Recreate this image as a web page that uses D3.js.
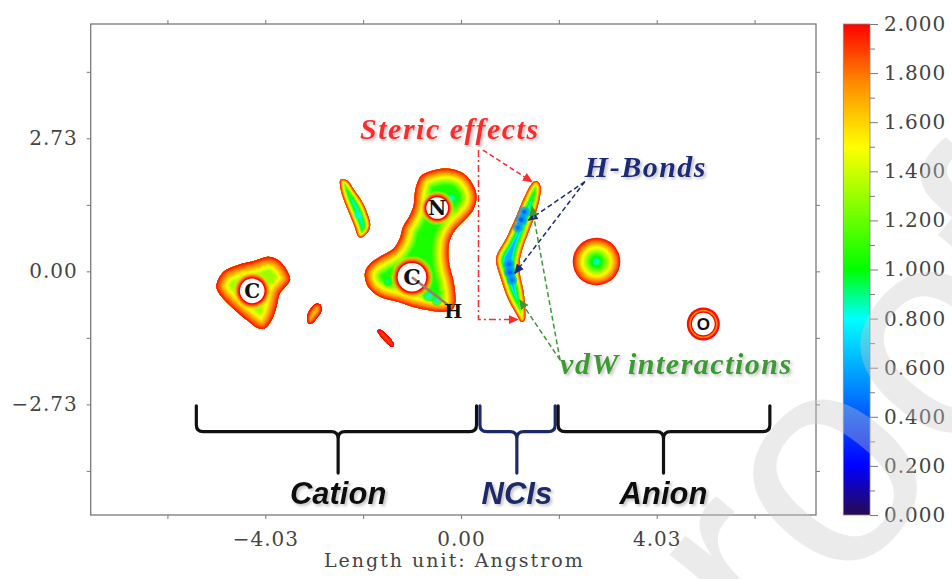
<!DOCTYPE html>
<html>
<head>
<meta charset="utf-8">
<script src="https://cdn.jsdelivr.net/npm/d3@7"></script>
<style>
  body { margin: 0; background: #fff; }
</style>
</head>
<body>
<div id="chart"></div>
<script>
// axis ticks (Angstrom)
const xTicks = [-6.045, -4.03, -2.015, 0, 2.015, 4.03, 6.045];
const xLabels = [-4.03, 0, 4.03];
const yTicks = [-4.095, -2.73, -1.365, 0, 1.365, 2.73, 4.095];
const yLabels = [-2.73, 0, 2.73];
const barMajor = [0, 0.2, 0.4, 0.6, 0.8, 1.0, 1.2, 1.4, 1.6, 1.8, 2.0];
const barMinor = [0.1, 0.3, 0.5, 0.7, 0.9, 1.1, 1.3, 1.5, 1.7, 1.9];

// colour map stops
const colorStops = [0, 0.2, 0.5, 0.8, 1.0, 1.25, 1.5, 1.75, 2.0];
const colorValues = ['#2a0a50', '#0000ff', '#0080ff', '#00ffff', '#00ff00', '#80ff00', '#ffff00', '#ff9000', '#ff0000'];

// region outlines (x, y in Angstrom)
const leftBlob = [[-5.03,-0.25],[-4.89,-0.01],[-4.59,0.13],[-4.31,0.20],[-4.10,0.27],[-3.97,0.30],[-3.76,0.23],
  [-3.59,0.03],[-3.52,-0.18],[-3.62,-0.32],[-3.73,-0.45],[-3.80,-0.73],[-3.90,-1.00],[-4.04,-1.17],
  [-4.17,-1.17],[-4.41,-1.00],[-4.69,-0.76],[-4.93,-0.52],[-5.03,-0.35]];
const slantBlob = [[-2.48,1.88],[-2.35,1.87],[-2.20,1.67],[-2.02,1.40],[-1.92,1.16],[-1.87,0.95],[-1.92,0.80],
  [-2.04,0.70],[-2.11,0.71],[-2.19,0.92],[-2.30,1.19],[-2.41,1.46],[-2.48,1.70]];
const smallBlob = [[-3.14,-1.07],[-3.17,-0.93],[-3.07,-0.73],[-2.97,-0.66],[-2.89,-0.69],[-2.88,-0.83],[-2.97,-0.96],[-3.07,-1.07]];
const streakBlob = [[-1.72,-1.22],[-1.66,-1.20],[-1.38,-1.50],[-1.42,-1.55]];
const cationBlob = [[-0.67,2.04],[-0.29,2.11],[0.05,2.01],[0.25,1.77],[0.32,1.53],[0.25,1.26],[0.08,1.06],
  [-0.12,0.85],[-0.23,0.64],[-0.26,0.37],[-0.23,0.09],[-0.16,-0.18],[-0.12,-0.45],[-0.12,-0.66],[-0.19,-0.79],
  [-0.43,-0.83],[-0.71,-0.79],[-0.98,-0.73],[-1.32,-0.62],[-1.67,-0.52],[-1.91,-0.32],[-1.98,-0.04],
  [-1.87,0.16],[-1.67,0.30],[-1.39,0.47],[-1.26,0.68],[-1.19,0.92],[-1.07,1.12],[-0.98,1.33],[-0.94,1.67],[-0.83,1.95]];
const nciBlob = [[1.57,1.85],[1.64,1.74],[1.61,1.46],[1.51,1.12],[1.38,0.78],[1.28,0.51],[1.21,0.23],[1.21,-0.04],
  [1.28,-0.38],[1.32,-0.73],[1.31,-1.00],[1.25,-1.04],[1.13,-0.86],[0.95,-0.52],[0.81,-0.11],[0.72,0.23],
  [0.76,0.38],[0.91,0.64],[1.08,0.99],[1.25,1.40],[1.40,1.71],[1.50,1.84]];

const regionShapes = [leftBlob, slantBlob, smallBlob, streakBlob, cationBlob, nciBlob];
const regionMin = [1.3, 0.85, 1.65, 1.9, 1.05, 0.62];
const regionDepth = [0.30, 0.15, 0.10, 0.04, 0.36, 0.19];

// round regions (anion, O ring)
const roundCenters = [[2.79, 0.20], [4.99, -1.08]];
const roundRadius = [0.49, 0.34];
const roundMin = [0.75, 1.7];

// low-value spots inside regions
const spotCenters = [[-0.19, 1.50], [-1.50, -0.21], [-0.66, -0.50], [-0.50, -0.60], [-2.12, 1.15],
  [1.30, 1.22], [1.24, 1.06], [1.17, 0.90], [0.99, 0.14], [1.01, -0.02], [1.05, -0.18]];
const spotRadius = [0.14, 0.11, 0.14, 0.12, 0.09, 0.13, 0.14, 0.12, 0.13, 0.14, 0.12];
const spotMin = [0.8, 0.85, 0.78, 0.8, 0.8, 0.42, 0.38, 0.45, 0.42, 0.38, 0.45];
const spotParent = [4, 4, 4, 4, 1, 5, 5, 5, 5, 5, 5];

// atoms
const atomLabels = ['C', 'N', 'C', 'O'];
const atomCenters = [[-4.30, -0.40], [-0.49, 1.30], [-1.01, -0.12], [4.99, -1.08]];
const atomRadius = [0.27, 0.24, 0.31, 0.25];
const atomBand = [0.14, 0.12, 0.14, 0.05];
const hydrogen = [-0.16, -0.81];

// annotations
const stericDashed = [[0.45, 2.49], [1.46, 1.84]];
const stericDashDot = [[0.36, 2.49], [0.36, -0.99], [1.17, -0.99]];
const hbondArrows = [[[2.55, 1.84], [1.39, 1.05]], [[2.55, 1.84], [1.11, -0.04]]];
const vdwArrows = [[[2.04, -1.82], [1.46, 1.33]], [[2.04, -1.82], [1.21, -0.59]]];
const braceSpans = [[-5.45, -2.53, 0.32], [0.39, 1.15, 1.94], [2.00, 4.17, 6.36]];
const braceNames = ['Cation', 'NCIs', 'Anion'];
const braceLevels = [-2.76, -3.29, -4.14];

const W = 952, H = 579;
const svg = d3.select('#chart').append('svg')
  .attr('width', W).attr('height', H)
  .style('background', '#fff')
  .style('display', 'block');

const x = d3.scaleLinear().domain([-7.625, 7.31]).range([90.7, 816]);
const y = d3.scaleLinear().domain([-5.0, 5.076]).range([515, 24]);
const pxPerA = x(1) - x(0);
const color = d3.scaleLinear().domain(colorStops).range(colorValues).clamp(true);

const defs = svg.append('defs');
const plotClip = defs.append('clipPath').attr('id', 'plotclip');
plotClip.append('rect').attr('x', x(x.domain()[0])).attr('y', y(y.domain()[1]))
  .attr('width', x(x.domain()[1]) - x(x.domain()[0])).attr('height', y(y.domain()[0]) - y(y.domain()[1]));

const shadow = defs.append('filter').attr('id', 'shadow')
  .attr('x', '-10%').attr('y', '-40%').attr('width', '130%').attr('height', '180%');
shadow.append('feDropShadow').attr('dx', 2).attr('dy', 2).attr('stdDeviation', 1.4)
  .attr('flood-color', '#777').attr('flood-opacity', 0.45);

const plot = svg.append('g').attr('clip-path', 'url(#plotclip)');

// ---- regions: colour bands by distance from the edge
const shapeLine = d3.line().x(d => x(d[0])).y(d => y(d[1])).curve(d3.curveCatmullRomClosed.alpha(0.5));
const steps = 18;
regionShapes.forEach((pts, i) => {
  const d = shapeLine(pts);
  defs.append('clipPath').attr('id', 'reg' + i).append('path').attr('d', d);
  const g = plot.append('g').attr('clip-path', `url(#reg${i})`);
  g.append('path').attr('d', d).attr('fill', color(regionMin[i]));
  const depthPx = regionDepth[i] * pxPerA;
  for (let k = steps; k >= 1; k--) {
    const t = k / steps;
    g.append('path').attr('d', d).attr('fill', 'none')
      .attr('stroke', color(2 - (2 - regionMin[i]) * t))
      .attr('stroke-width', 2 * depthPx * t)
      .attr('stroke-linejoin', 'round');
  }
  // spots inside this region
  spotCenters.forEach((c, j) => {
    if (spotParent[j] !== i) return;
    const gid = 'spot' + j;
    const grad = defs.append('radialGradient').attr('id', gid);
    [0, 0.25, 0.5, 0.75, 1].forEach(o => {
      grad.append('stop').attr('offset', o)
        .attr('stop-color', color(spotMin[j] + (regionMin[i] - spotMin[j]) * o))
        .attr('stop-opacity', o < 0.5 ? 1 : (o < 1 ? 0.7 : 0));
    });
    g.append('circle').attr('cx', x(c[0])).attr('cy', y(c[1]))
      .attr('r', spotRadius[j] * pxPerA).attr('fill', `url(#${gid})`);
  });
});

// ---- round regions
roundCenters.forEach((c, i) => {
  const gid = 'round' + i;
  const grad = defs.append('radialGradient').attr('id', gid);
  for (let k = 0; k <= 10; k++) {
    grad.append('stop').attr('offset', k / 10)
      .attr('stop-color', color(roundMin[i] + (2 - roundMin[i]) * k / 10));
  }
  plot.append('circle').attr('cx', x(c[0])).attr('cy', y(c[1]))
    .attr('r', roundRadius[i] * pxPerA).attr('fill', `url(#${gid})`);
});

// ---- atom holes
atomCenters.forEach((c, i) => {
  const r = atomRadius[i] * pxPerA;
  const R = (atomRadius[i] + atomBand[i]) * pxPerA;
  const f0 = r / R;
  const gid = 'hole' + i;
  const grad = defs.append('radialGradient').attr('id', gid);
  grad.append('stop').attr('offset', 0).attr('stop-color', color(2)).attr('stop-opacity', 1);
  grad.append('stop').attr('offset', f0).attr('stop-color', color(2)).attr('stop-opacity', 1);
  [[0.3, 1.8, 0.95], [0.65, 1.6, 0.6], [1, 1.45, 0]].forEach(s => {
    grad.append('stop').attr('offset', f0 + (1 - f0) * s[0])
      .attr('stop-color', color(s[1])).attr('stop-opacity', s[2]);
  });
  plot.append('circle').attr('cx', x(c[0])).attr('cy', y(c[1])).attr('r', R).attr('fill', `url(#${gid})`);
  plot.append('circle').attr('cx', x(c[0])).attr('cy', y(c[1])).attr('r', r - 0.8).attr('fill', '#fff');
});

// C-H bond line
plot.append('line')
  .attr('x1', x(atomCenters[2][0])).attr('y1', y(atomCenters[2][1]))
  .attr('x2', x(hydrogen[0]) - 3).attr('y2', y(hydrogen[1]) - 4)
  .attr('stroke', '#a57a6a').attr('stroke-width', 2.5);

plot.selectAll('text.atom').data(atomLabels).join('text')
  .attr('class', 'atom')
  .attr('x', (d, i) => x(atomCenters[i][0]))
  .attr('y', (d, i) => y(atomCenters[i][1]))
  .attr('dy', '0.36em')
  .attr('text-anchor', 'middle')
  .style('font-family', (d) => d === 'O' ? 'Liberation Sans, Arial, sans-serif' : 'DejaVu Serif, serif')
  .style('font-weight', 'bold')
  .style('font-size', (d, i) => d === 'O' ? '17px' : (i === 2 ? '22px' : '20px'))
  .attr('fill', '#111')
  .text(d => d);

plot.append('text')
  .attr('x', x(hydrogen[0])).attr('y', y(hydrogen[1]))
  .attr('dy', '0.36em').attr('text-anchor', 'middle')
  .style('font-family', 'DejaVu Serif, serif').style('font-weight', 'bold').style('font-size', '19px')
  .attr('fill', '#111').text('H');

// ---- frame and axes
const axisColor = '#7a7a7a';
function styleAxis(g) {
  g.select('.domain').remove();
  g.selectAll('line').attr('stroke', axisColor);
  g.selectAll('text')
    .style('font-family', 'DejaVu Serif, serif')
    .style('font-size', '20px')
    .style('letter-spacing', '1px')
    .attr('fill', '#444');
}

svg.append('g').attr('transform', `translate(0,${y.range()[0]})`)
  .call(d3.axisBottom(x).tickValues(xTicks).tickSize(4).tickPadding(13)
    .tickFormat(v => xLabels.includes(v) ? d3.format('.2f')(v) : ''))
  .call(styleAxis);
svg.append('g').attr('transform', `translate(0,${y.range()[1]})`)
  .call(d3.axisTop(x).tickValues(xTicks).tickSize(4).tickFormat(''))
  .call(styleAxis);
svg.append('g').attr('transform', `translate(${x.range()[0]},0)`)
  .call(d3.axisLeft(y).tickValues(yTicks).tickSize(4).tickPadding(9)
    .tickFormat(v => yLabels.includes(v) ? d3.format('.2f')(v) : ''))
  .call(styleAxis);
svg.append('g').attr('transform', `translate(${x.range()[1]},0)`)
  .call(d3.axisRight(y).tickValues(yTicks).tickSize(4).tickFormat(''))
  .call(styleAxis);

svg.append('rect')
  .attr('x', x.range()[0]).attr('y', y.range()[1])
  .attr('width', x.range()[1] - x.range()[0]).attr('height', y.range()[0] - y.range()[1])
  .attr('fill', 'none').attr('stroke', axisColor).attr('stroke-width', 1.3);

svg.append('text')
  .attr('x', (x.range()[0] + x.range()[1]) / 2 + 1).attr('y', 567)
  .attr('text-anchor', 'middle')
  .style('font-family', 'DejaVu Serif, serif').style('font-size', '19px').style('letter-spacing', '2px')
  .attr('fill', '#444')
  .text('Length unit: Angstrom');

// ---- colour bar
const cb = d3.scaleLinear().domain([0, 2]).range([515, 24]);
const cbX0 = 843.3, cbX1 = 870;
const cbGrad = defs.append('linearGradient').attr('id', 'cbgrad')
  .attr('x1', 0).attr('y1', 1).attr('x2', 0).attr('y2', 0);
colorStops.forEach((v, i) => {
  cbGrad.append('stop').attr('offset', v / 2).attr('stop-color', colorValues[i]);
});
svg.append('rect').attr('x', cbX0).attr('y', cb(2)).attr('width', cbX1 - cbX0).attr('height', cb(0) - cb(2))
  .attr('fill', 'url(#cbgrad)').attr('stroke', '#888').attr('stroke-width', 0.8);
svg.append('g').attr('transform', `translate(${cbX1},0)`)
  .call(d3.axisRight(cb).tickValues(barMinor).tickSize(5).tickFormat(''))
  .call(styleAxis);
svg.append('g').attr('transform', `translate(${cbX1},0)`)
  .call(d3.axisRight(cb).tickValues(barMajor).tickSize(8).tickPadding(6).tickFormat(d3.format('.3f')))
  .call(styleAxis);

// ---- annotation arrows
function marker(id, col) {
  defs.append('marker').attr('id', id)
    .attr('viewBox', '0 0 10 10').attr('refX', 9).attr('refY', 5)
    .attr('markerWidth', 10).attr('markerHeight', 10)
    .attr('markerUnits', 'userSpaceOnUse').attr('orient', 'auto')
    .append('path').attr('d', 'M0,0.5 L10,5 L0,9.5 z').attr('fill', col);
}
const red = '#ff2a2a', navy = '#1c2a78', green = '#3a9a30';
marker('arrRed', red);
marker('arrNavy', navy);
marker('arrGreen', green);

const arrowLine = d3.line().x(d => x(d[0])).y(d => y(d[1]));
const ann = svg.append('g').attr('fill', 'none').attr('stroke-width', 1.5);
ann.append('path').attr('d', arrowLine(stericDashed)).attr('stroke', red)
  .attr('stroke-dasharray', '5,3').attr('marker-end', 'url(#arrRed)');
ann.append('path').attr('d', arrowLine(stericDashDot)).attr('stroke', red)
  .attr('stroke-dasharray', '7,3,2,3').attr('marker-end', 'url(#arrRed)');
hbondArrows.forEach(a => {
  ann.append('path').attr('d', arrowLine(a)).attr('stroke', navy)
    .attr('stroke-dasharray', '5,3').attr('marker-end', 'url(#arrNavy)');
});
vdwArrows.forEach(a => {
  ann.append('path').attr('d', arrowLine(a)).attr('stroke', green)
    .attr('stroke-dasharray', '5,3').attr('marker-end', 'url(#arrGreen)');
});

const annFont = 'Liberation Serif, Times New Roman, serif';
function annText(txt, px, py, anchor, col) {
  svg.append('text').attr('x', x(px)).attr('y', y(py)).attr('text-anchor', anchor)
    .style('font-family', annFont).style('font-style', 'italic').style('font-weight', 'bold')
    .style('font-size', '30px').style('letter-spacing', '1.5px')
    .attr('fill', col).attr('filter', 'url(#shadow)')
    .text(txt);
}
annText('Steric effects', -0.23, 2.71, 'middle', red);
annText('H-Bonds', 2.55, 1.94, 'start', navy);
annText('vdW interactions', 2.04, -2.11, 'start', green);

// ---- braces
function bracePath(s) {
  const X0 = x(s[0]), XM = x(s[1]), X1 = x(s[2]);
  const yt = y(braceLevels[0]), yh = y(braceLevels[1]), yb = y(braceLevels[2]);
  const r = 7;
  return `M${X0},${yt} L${X0},${yh - r} Q${X0},${yh} ${X0 + r},${yh} L${XM - r},${yh} Q${XM},${yh} ${XM},${yh + r} L${XM},${yb}` +
    ` M${XM},${yh + r} Q${XM},${yh} ${XM + r},${yh} L${X1 - r},${yh} Q${X1},${yh} ${X1},${yh - r} L${X1},${yt}`;
}
const braceColors = ['#111', '#1c2a6a', '#111'];
braceSpans.forEach((s, i) => {
  svg.append('path').attr('d', bracePath(s)).attr('fill', 'none')
    .attr('stroke', braceColors[i]).attr('stroke-width', 3.2)
    .attr('stroke-linejoin', 'round').attr('stroke-linecap', 'round');
  svg.append('text').attr('x', x(s[1])).attr('y', y(-4.78)).attr('text-anchor', 'middle')
    .style('font-family', 'Liberation Sans, Arial, sans-serif').style('font-style', 'italic').style('font-weight', 'bold')
    .style('font-size', '31px').attr('fill', braceColors[i]).attr('filter', 'url(#shadow)')
    .text(braceNames[i]);
});

// ---- watermark
svg.append('text')
  .attr('transform', 'translate(778,672) rotate(-50)')
  .style('font-family', 'Liberation Sans, Arial, sans-serif')
  .style('font-size', '300px')
  .attr('fill', '#c8c8c8').attr('fill-opacity', 0.36)
  .text('roof');
</script>
</body>
</html>
